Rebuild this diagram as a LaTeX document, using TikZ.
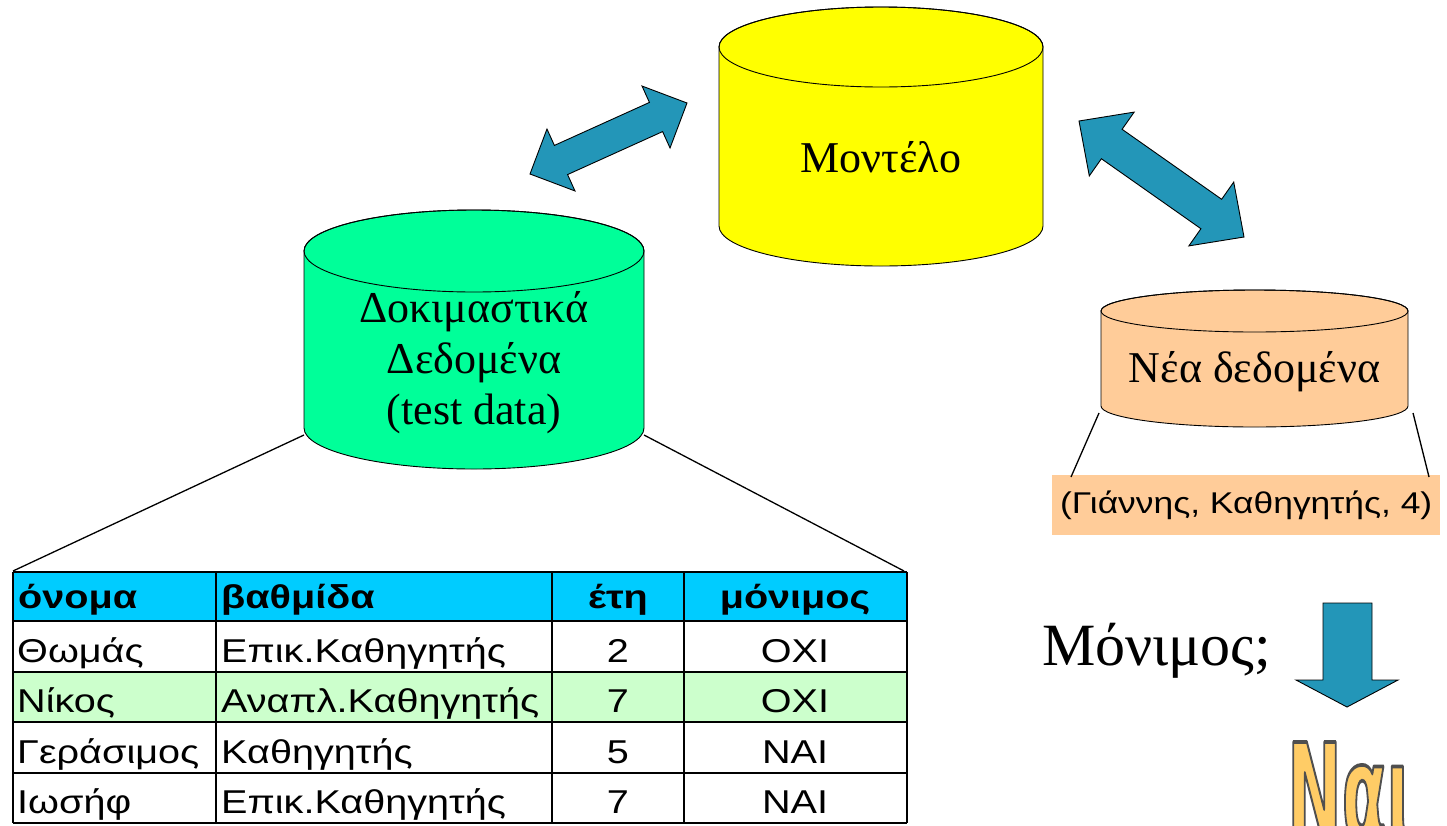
\documentclass[tikz,border=0pt]{standalone}
\usepackage{fontspec}
\setmainfont{Liberation Serif}
\newfontfamily\tabfont[FakeStretch=1.2]{Liberation Sans}
\newfontfamily\tuplefont[FakeStretch=1.18]{Liberation Sans}
\newfontfamily\yesfont{DejaVu Sans}
\usetikzlibrary{calc}

\definecolor{modelyellow}{RGB}{255,255,0}
\definecolor{testgreen}{RGB}{0,255,153}
\definecolor{newpeach}{RGB}{255,204,153}
\definecolor{headcyan}{RGB}{0,204,255}
\definecolor{rowgreen}{RGB}{204,255,204}
\definecolor{flowblue}{RGB}{35,150,184}
\definecolor{yesgold}{RGB}{255,204,102}

\tikzset{
  cylline/.style={draw=black, line width=0.9pt},
  serifbig/.style={font=\fontsize{44}{51}\selectfont, inner sep=0pt},
  cell/.style={font=\tabfont\fontsize{33}{33}\selectfont, inner sep=0pt},
  headcell/.style={font=\tabfont\bfseries\fontsize{33}{33}\selectfont, inner sep=0pt},
  blockarrow/.style={draw=black, line width=0.9pt, fill=flowblue, line join=miter},
  gridrule/.style={draw=black, line width=2.6pt},
  zoomline/.style={draw=black, line width=1.3pt},
  yesword/.style={font=\yesfont\bfseries\fontsize{40}{40}\selectfont, inner sep=0pt,
                  anchor=base west, text=yesgold},
}

% glyphs filled in the current colour and stroked with a grey rim
\newcommand\rimmed[1]{%
  \special{pdf:literal direct 0.31 0.31 0.31 RG 1.1 w 1 j 2 Tr}#1%
  \special{pdf:literal direct 0 Tr}}

% cylinder: centre x, top-ellipse y, bottom-ellipse y, x radius, y radius, fill
\newcommand\drawcyl[6]{%
  \path[cylline, fill=#6] (#1-#4,#2) -- (#1-#4,#3)
    arc[start angle=180, end angle=0, x radius=#4, y radius=#5]
    -- (#1+#4,#2)
    arc[start angle=0, end angle=-180, x radius=#4, y radius=#5] -- cycle;
  \draw[cylline] (#1,#2) ellipse[x radius=#4, y radius=#5];
}

% two-headed block arrow between tips #1 and #2:
% head length #3, head half-width #4, shaft half-width #5
\newcommand\twowayarrow[5]{%
  \path[blockarrow] (#1)
    -- ($(#1)!#3!(#2)!#4!90:(#2)$)
    -- ($(#1)!#3!(#2)!#5!90:(#2)$)
    -- ($(#2)!#3!(#1)!#5!-90:(#1)$)
    -- ($(#2)!#3!(#1)!#4!-90:(#1)$)
    -- (#2)
    -- ($(#2)!#3!(#1)!#4!90:(#1)$)
    -- ($(#2)!#3!(#1)!#5!90:(#1)$)
    -- ($(#1)!#3!(#2)!#5!-90:(#2)$)
    -- ($(#1)!#3!(#2)!#4!-90:(#2)$)
    -- cycle;
}

\begin{document}
\begin{tikzpicture}[x=1pt, y=-1pt]
\useasboundingbox (0,0) rectangle (1447,825);
\clip (0,0) rectangle (1447,825);

% ---- the three data stores ----
\drawcyl{881}{47}{226}{162}{40}{modelyellow}
\node[serifbig, anchor=base] (model) at (881,172) {Μοντέλο};

\drawcyl{474}{251}{428}{170}{41}{testgreen}
% base anchor of a multi-line node sits on its last line
\node[serifbig, anchor=base, align=center] (test) at (474,424)
  {Δοκιμαστικά\\Δεδομένα\\(test data)};

\drawcyl{1254.5}{311}{406}{153.5}{21}{newpeach}
\node[serifbig, anchor=base] (newdata) at (1254.5,382) {Νέα δεδομένα};

% ---- arrows between the stores and the model ----
\coordinate (lA) at (530,174);
\coordinate (lB) at (687,103);
\twowayarrow{lA}{lB}{34pt}{34pt}{16pt}
\coordinate (rA) at (1079,121);
\coordinate (rB) at (1244,237);
\twowayarrow{rA}{rB}{40pt}{39pt}{18pt}

% ---- test data table ----
\fill[headcyan] (13,572) rectangle (907,621);
\fill[rowgreen] (13,672) rectangle (907,722);
\foreach \yy in {572,621,672,722,773,823}
  \draw[gridrule] (13,\yy) -- (907,\yy);
\foreach \xx in {13,216,552,684,907}
  \draw[gridrule] (\xx,572) -- (\xx,823);
\coordinate (tabNW) at (13,571);
\coordinate (tabNE) at (904,571);

\node[headcell, anchor=base west] (h1) at (18,608) {όνομα};
\node[headcell, anchor=base west] (h2) at (221,608) {βαθμίδα};
\node[headcell, anchor=base] (h3) at (618,608) {έτη};
\node[headcell, anchor=base] (h4) at (795,608) {μόνιμος};

\foreach \nm/\rank/\yrs/\perm [count=\r] in
  {Θωμάς/Επικ.Καθηγητής/2/ΟΧΙ,
   Νίκος/Αναπλ.Καθηγητής/7/ΟΧΙ,
   Γεράσιμος/Καθηγητής/5/ΝΑΙ,
   Ιωσήφ/Επικ.Καθηγητής/7/ΝΑΙ}{
  \pgfmathsetmacro\base{612+50.4*\r}
  \node[cell, anchor=base west] (c\r a) at (17,\base) {\nm};
  \node[cell, anchor=base west] (c\r b) at (221,\base) {\rank};
  \node[cell, anchor=base] (c\r c) at (618,\base) {\yrs};
  \node[cell, anchor=base] (c\r d) at (795,\base) {\perm};
}

% zoom lines from the test store to the table
\coordinate (testL) at (304,435);
\coordinate (testR) at (644,435);
\draw[zoomline] (testL) -- (tabNW);
\draw[zoomline] (testR) -- (tabNE);

% ---- the new record ----
\node[fill=newpeach, minimum width=388pt, minimum height=60pt, anchor=north west,
      inner sep=0pt, font=\tuplefont\fontsize{30}{30}\selectfont] (tuple) at (1052,475)
  {(Γιάννης, Καθηγητής, 4)};
\coordinate (newL) at (1099,413);
\coordinate (newR) at (1413,413);
\coordinate (tupL) at (1071,477);
\coordinate (tupR) at (1429,477);
\draw[zoomline] (newL) -- (tupL);
\draw[zoomline] (newR) -- (tupR);

% ---- the question and its answer ----
\node[font=\fontsize{60}{60}\selectfont, anchor=base west, inner sep=0pt] (ask) at (1042,665) {Μόνιμος;};
\path[blockarrow] (1323,603) -- (1372,603) -- (1372,680) -- (1398,680)
  -- (1347,707) -- (1296,680) -- (1323,680) -- cycle;

\node[yesword] (yes) at (1287,840) {\scalebox{1.63}[3.36]{\rimmed{Ναι}}};
\end{tikzpicture}
\end{document}
